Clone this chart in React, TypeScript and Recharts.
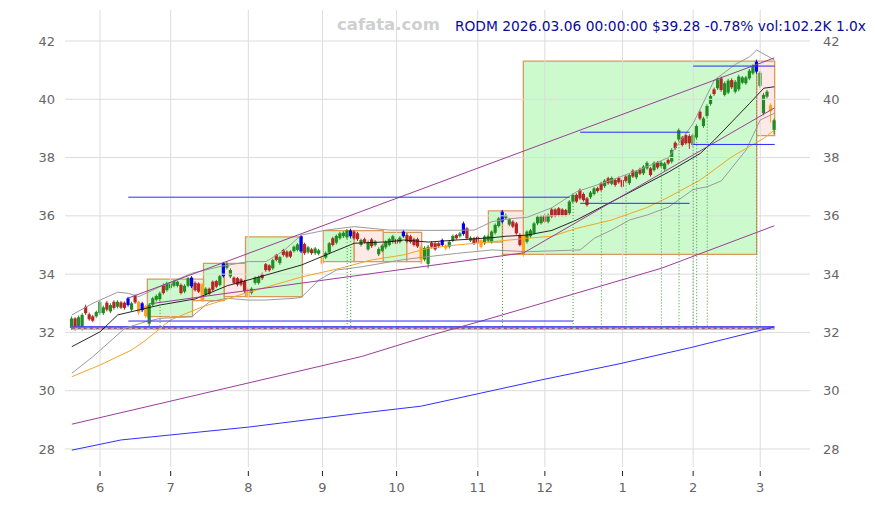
import React from 'react';
import { ComposedChart, Bar, Line, XAxis, YAxis, ReferenceArea, ReferenceLine } from 'recharts';

// ---- candles (daily, index 0 = 2025-05-20 ... 199 = 2026-03-06)
const OPEN = [
  32.15, 32.48, 32.22, 32.12, 32.88, 32.62, 32.55, 32.55, 32.66, 32.66,
  33.02, 32.72, 33.05, 32.88, 33.03, 33.02, 32.94, 32.78, 33.25, 33.05,
  32.76, 32.90, 32.30, 32.95, 33.12, 33.14, 33.62, 33.45, 33.52, 33.60,
  33.60, 33.63, 33.40, 33.60, 33.58, 33.70, 33.68, 33.65, 33.30, 33.50,
  33.74, 33.76, 33.63, 33.93, 34.22, 33.92, 33.88, 33.86, 33.82, 33.76,
  33.50, 33.36, 33.70, 33.70, 34.00, 34.34, 34.30, 34.20, 34.66, 34.38,
  34.83, 34.77, 34.78, 34.79, 34.83, 34.78, 35.03, 34.75, 34.85, 34.72,
  34.70, 34.60, 34.57, 34.74, 35.23, 35.08, 35.23, 35.30, 35.26, 35.30,
  35.46, 35.40, 35.00, 35.20, 34.85, 35.19, 35.00, 34.68, 34.80, 34.92,
  35.00, 35.10, 35.20, 35.10, 35.30, 35.34, 35.30, 35.20, 35.20, 34.94,
  34.50, 34.35, 35.08, 35.06, 35.06, 35.00, 34.98, 34.94, 35.15, 35.34,
  35.30, 35.38, 35.57, 35.15, 35.23, 35.28, 35.17, 35.06, 35.15, 35.11,
  35.42, 35.65, 35.80, 35.92, 35.70, 35.80, 35.74, 35.34, 35.34, 35.11,
  35.30, 35.40, 35.74, 35.75, 36.03, 35.80, 36.22, 36.22, 36.26, 36.22,
  36.20, 36.09, 36.49, 36.72, 36.89, 36.75, 36.60, 36.64, 36.75, 36.95,
  37.12, 37.02, 37.29, 37.10, 37.23, 37.30, 37.23, 37.35, 37.12, 37.55,
  37.32, 37.60, 37.46, 37.63, 37.63, 37.57, 37.83, 37.71, 37.60, 37.92,
  37.86, 38.51, 38.62, 38.69, 38.77, 38.74, 38.43, 38.69, 39.57, 39.08,
  39.43, 39.84, 40.34, 40.38, 40.72, 40.15, 40.23, 40.66, 40.26, 40.34,
  40.57, 40.55, 40.72, 40.89, 40.95, 40.46, 39.52, 40.09, 39.80, 38.95,
];
const CLOSE = [
  32.48, 32.12, 32.52, 32.60, 32.66, 32.45, 32.40, 32.70, 33.05, 32.86,
  32.78, 32.94, 32.84, 33.05, 32.85, 32.84, 33.17, 33.00, 33.03, 32.68,
  33.00, 32.56, 32.95, 33.17, 33.25, 33.34, 33.35, 33.68, 33.68, 33.76,
  33.74, 33.35, 33.60, 33.86, 33.88, 33.45, 33.40, 33.10, 33.50, 33.33,
  33.46, 33.57, 33.93, 34.37, 34.35, 34.14, 33.70, 33.64, 33.64, 33.42,
  33.22, 33.50, 33.88, 33.90, 33.86, 34.14, 34.13, 34.48, 34.49, 34.58,
  34.66, 34.60, 34.60, 34.94, 35.02, 35.30, 34.72, 34.92, 34.72, 34.88,
  34.82, 34.36, 34.73, 35.06, 35.00, 35.31, 35.40, 35.42, 35.50, 35.50,
  35.23, 35.20, 35.17, 35.10, 35.10, 34.96, 35.12, 34.86, 34.98, 35.11,
  35.20, 35.30, 35.05, 35.25, 35.46, 35.12, 35.10, 35.00, 34.95, 34.50,
  34.90, 34.94, 34.94, 34.85, 34.96, 35.17, 34.88, 35.11, 35.31, 35.23,
  35.40, 35.74, 35.23, 35.25, 35.06, 35.08, 34.94, 35.29, 35.30, 35.46,
  35.69, 35.91, 36.14, 36.02, 35.88, 35.63, 35.40, 35.00, 34.68, 35.46,
  35.50, 35.74, 35.97, 35.98, 35.80, 36.03, 35.97, 36.00, 36.03, 36.03,
  36.03, 36.49, 36.72, 36.49, 36.60, 36.54, 36.37, 36.80, 36.94, 36.85,
  36.89, 37.21, 37.12, 37.30, 37.06, 37.15, 37.00, 37.20, 37.40, 37.35,
  37.52, 37.45, 37.69, 37.82, 37.40, 37.82, 37.66, 37.83, 37.80, 37.80,
  38.26, 38.32, 38.94, 38.43, 38.49, 38.49, 38.77, 39.08, 39.34, 39.34,
  39.77, 40.11, 40.18, 40.68, 40.32, 40.55, 40.64, 40.41, 40.60, 40.78,
  40.75, 40.75, 40.98, 41.14, 41.29, 40.91, 40.15, 40.26, 39.59, 39.28,
];
const HIGH = [
  32.55, 32.52, 32.58, 32.66, 32.95, 32.68, 32.60, 32.75, 33.10, 32.92,
  33.08, 33.00, 33.10, 33.10, 33.08, 33.06, 33.22, 33.05, 33.30, 33.10,
  33.05, 32.95, 33.00, 33.22, 33.30, 33.40, 33.68, 33.74, 33.72, 33.80,
  33.78, 33.68, 33.65, 33.90, 33.93, 33.75, 33.72, 33.70, 33.55, 33.54,
  33.78, 33.80, 33.98, 34.42, 34.42, 34.20, 33.92, 33.90, 33.86, 33.80,
  33.55, 33.55, 33.92, 33.95, 34.05, 34.38, 34.34, 34.53, 34.70, 34.63,
  34.87, 34.82, 34.82, 34.98, 35.06, 35.35, 35.08, 34.97, 34.90, 34.93,
  34.87, 34.66, 34.78, 35.10, 35.28, 35.36, 35.45, 35.47, 35.55, 35.56,
  35.50, 35.45, 35.22, 35.25, 35.15, 35.24, 35.17, 34.92, 35.03, 35.16,
  35.25, 35.35, 35.25, 35.30, 35.52, 35.40, 35.35, 35.25, 35.25, 35.00,
  34.96, 35.00, 35.13, 35.10, 35.10, 35.22, 35.03, 35.16, 35.36, 35.38,
  35.45, 35.80, 35.62, 35.30, 35.28, 35.33, 35.22, 35.34, 35.35, 35.50,
  35.74, 35.96, 36.20, 36.08, 35.93, 35.85, 35.79, 35.40, 35.40, 35.50,
  35.55, 35.79, 36.02, 36.03, 36.08, 36.08, 36.27, 36.26, 36.30, 36.26,
  36.24, 36.54, 36.77, 36.77, 36.94, 36.80, 36.65, 36.85, 36.99, 37.00,
  37.17, 37.26, 37.34, 37.35, 37.28, 37.35, 37.28, 37.40, 37.46, 37.60,
  37.57, 37.65, 37.74, 37.87, 37.68, 37.87, 37.88, 37.88, 37.85, 37.97,
  38.32, 38.56, 39.00, 38.74, 38.82, 38.80, 38.83, 39.14, 39.63, 39.40,
  39.83, 40.17, 40.40, 40.74, 40.78, 40.61, 40.70, 40.72, 40.66, 40.84,
  40.80, 40.80, 41.04, 41.20, 41.36, 40.97, 40.22, 40.32, 39.86, 39.34,
];
const LOW = [
  32.08, 32.06, 32.16, 32.06, 32.60, 32.40, 32.35, 32.50, 32.60, 32.60,
  32.72, 32.66, 32.78, 32.82, 32.80, 32.78, 32.88, 32.72, 32.98, 32.60,
  32.70, 32.50, 32.20, 32.90, 33.06, 33.08, 33.30, 33.40, 33.46, 33.55,
  33.55, 33.30, 33.35, 33.55, 33.52, 33.40, 33.35, 33.05, 33.24, 33.28,
  33.40, 33.52, 33.58, 33.88, 34.16, 33.86, 33.65, 33.58, 33.58, 33.36,
  33.18, 33.30, 33.64, 33.64, 33.80, 34.08, 34.08, 34.14, 34.44, 34.32,
  34.60, 34.55, 34.55, 34.74, 34.78, 34.72, 34.66, 34.70, 34.66, 34.66,
  34.64, 34.30, 34.52, 34.68, 34.95, 35.02, 35.18, 35.24, 35.20, 35.24,
  35.18, 35.14, 34.95, 35.05, 34.80, 34.90, 34.95, 34.62, 34.75, 34.86,
  34.95, 35.05, 35.00, 35.05, 35.25, 35.06, 35.05, 34.95, 34.90, 34.35,
  34.44, 34.20, 34.88, 34.80, 34.90, 34.95, 34.82, 34.88, 35.10, 35.18,
  35.25, 35.32, 35.18, 35.10, 35.00, 34.80, 34.88, 35.00, 35.10, 35.05,
  35.36, 35.60, 35.75, 35.86, 35.64, 35.58, 35.35, 34.95, 34.60, 35.05,
  35.25, 35.35, 35.68, 35.70, 35.75, 35.74, 35.92, 35.95, 35.98, 35.98,
  35.98, 36.03, 36.44, 36.44, 36.55, 36.49, 36.32, 36.58, 36.70, 36.80,
  36.84, 36.96, 37.07, 37.05, 37.00, 37.10, 36.95, 37.15, 37.06, 37.30,
  37.26, 37.40, 37.40, 37.58, 37.35, 37.52, 37.60, 37.66, 37.55, 37.75,
  37.80, 38.27, 38.56, 38.38, 38.44, 38.30, 38.37, 38.63, 39.28, 39.02,
  39.37, 39.78, 40.12, 40.32, 40.26, 40.10, 40.18, 40.35, 40.20, 40.28,
  40.52, 40.50, 40.66, 40.84, 40.88, 40.40, 39.45, 40.03, 39.20, 38.80,
];
const BLUE_CANDLES = [16, 20, 34, 43, 65, 79, 94, 105, 111, 122, 194];
const ORANGE_CANDLES = [19, 21, 37, 50, 71, 99, 106, 116, 128, 198];

// ---- overlay lines, as [candle index, price]
const MA_SHORT = [[0,31.51],[8,32.02],[13,32.6],[19,32.77],[25,32.94],[35,33.15],[44,33.6],[53,33.9],[65,34.31],[72,34.66],[80,35.06],[90,35.11],[94,35.17],[101,35.1],[109,35.17],[115,35.22],[119,35.25],[123,35.3],[129,35.34],[136,35.5],[143,35.86],[153,36.49],[163,37.12],[169,37.5],[178,38.14],[182,38.6],[187,39.23],[192,39.86],[196,40.38],[199,40.43]];
const MA_LONG = [[0,30.48],[8,30.88],[17,31.4],[21,31.74],[28,32.43],[37,32.88],[49,33.34],[65,33.9],[76,34.2],[85,34.49],[94,34.66],[101,34.89],[109,35.0],[119,35.11],[129,35.23],[136,35.3],[143,35.57],[153,35.86],[163,36.29],[169,36.64],[178,37.23],[187,38.03],[196,38.66],[199,38.94]];
const BAND_UP = [[0,32.6],[6,33.0],[13,33.38],[16,33.34],[19,33.23],[25,33.57],[34,34.03],[42,34.26],[50,34.43],[55,34.43],[60,34.8],[65,35.34],[72,35.51],[80,35.63],[90,35.51],[95,35.51],[101,35.5],[114,35.51],[119,35.8],[124,35.9],[129,35.95],[136,36.28],[143,36.83],[153,37.23],[163,37.69],[169,38.0],[176,39.17],[182,40.66],[188,41.2],[192,41.46],[194,41.69],[199,41.35]];
const BAND_LOW = [[0,30.6],[6,31.17],[15,32.14],[21,32.37],[25,32.48],[34,32.54],[39,33.05],[44,33.17],[50,33.11],[55,33.11],[63,33.17],[65,33.2],[70,33.8],[75,34.14],[82,34.25],[94,34.5],[101,34.6],[109,34.71],[119,34.83],[129,34.77],[144,34.83],[148,35.23],[153,35.52],[158,35.86],[163,36.03],[169,36.3],[176,36.9],[180,37.0],[184,37.2],[191,38.26],[195,39.29],[199,39.52]];
const CHAN_TOP = [[16,33.18],[199,41.42]];
const CHAN_LOW1 = [[22,32.98],[128,34.73]];
const CHAN_LOW2 = [[128,34.73],[199,39.7]];
const TREND_PURPLE = [[0,28.85],[82,31.17],[101,31.88],[116,32.39],[167,34.2],[199,35.66]];
const TREND_BLUE = [[0,27.96],[14,28.31],[50,28.75],[82,29.23],[99,29.47],[116,29.92],[133,30.37],[155,30.92],[175,31.47],[199,32.19]];
const VOL_STRIP = [[0,32.14],[199,32.14]];
const VOL_LINE = [[0,32.19],[199,32.19]];

// ---- boxes [x1, x2, low, high]
const GREEN_BOXES = [[21.4,34.2,32.54,33.83],[37.3,43.2,33.09,34.37],[49.2,65.3,33.23,35.28],[71.2,80.0,34.43,35.49],[88.2,94.9,34.43,35.43],[118,122,35.1,36.17],[127.9,194,34.68,41.31]];
const PINK_BOXES = [[34.2,37.3,33.09,33.83],[43.2,49.2,33.23,34.37],[80.0,88.2,34.43,35.49],[94.9,99.1,34.43,35.43],[122,127.9,34.68,36.17],[194,199.1,38.75,41.31]];

// ---- horizontal levels [price, from index, to index]
const LEVELS = [[32.39,16,142],[36.64,16,141],[36.43,144,175],[38.87,144,175],[41.14,176,199.1],[38.45,176,199.1]];
const SIGNAL_IDX = [22, 25, 78, 79, 122, 142, 150, 157, 167, 172, 176, 177, 180, 194];

const MONTH_IDX = [8, 28, 50, 71, 92, 115, 134, 156, 176, 195];
const MONTH_LABELS = ['6', '7', '8', '9', '10', '11', '12', '1', '2', '3'];
const Y_TICKS = [28, 30, 32, 34, 36, 38, 40, 42];

const TITLE = 'RODM 2026.03.06 00:00:00 $39.28 -0.78% vol:102.2K 1.0x';
const WATERMARK = 'cafata.com';

const rows: any[] = OPEN.map((o, i) => ({
  i, o, c: CLOSE[i], h: HIGH[i], l: LOW[i], range: [LOW[i], HIGH[i]],
  flag: BLUE_CANDLES.includes(i) ? 'b' : ORANGE_CANDLES.includes(i) ? 'o' : '',
}));
const put = (key: string, pts: number[][]) => pts.forEach(([i, v]) => { rows[i][key] = v; });
put('maS', MA_SHORT); put('maL', MA_LONG); put('bbU', BAND_UP); put('bbL', BAND_LOW);
put('chT', CHAN_TOP); put('chL1', CHAN_LOW1); put('chL2', CHAN_LOW2);
put('tP', TREND_PURPLE); put('tB', TREND_BLUE); put('vS', VOL_STRIP); put('vL', VOL_LINE);

const Candle = (props: any) => {
  const { x, y, width, height, payload } = props;
  if (!payload || payload.h == null) return null;
  const { o, c, h, l, flag } = payload;
  const top0 = Math.min(y, y + height);
  const hgt = Math.abs(height);
  const cx = x + width / 2;
  const span = h - l;
  const py = (v: number) => top0 + (span ? ((h - v) / span) * hgt : 0);
  let col = c >= o ? '#228b22' : '#b52525';
  if (flag === 'b') col = '#0000ee';
  if (flag === 'o') col = '#ffa31a';
  const bt = py(Math.max(o, c));
  const bb = py(Math.min(o, c));
  return (
    <g>
      <line x1={cx} x2={cx} y1={top0} y2={top0 + hgt} stroke={col} strokeWidth={1} />
      <rect x={cx - 1.6} y={bt} width={3.2} height={Math.max(1, bb - bt)} fill={col} />
    </g>
  );
};

const XTick = (props: any) => {
  const { x, y, payload } = props;
  const k = MONTH_IDX.indexOf(payload.value);
  return (
    <g>
      <line x1={x} x2={x} y1={y - 4} y2={y + 1} stroke="#222" strokeWidth={1} />
      <text x={x} y={y + 17} textAnchor="middle" fill="#666" fontSize={13} fontFamily="DejaVu Sans">{k >= 0 ? MONTH_LABELS[k] : ''}</text>
    </g>
  );
};

const yTick = { fill: '#666', fontSize: 13, fontFamily: 'DejaVu Sans' };
const DOMAIN: [number, number] = [27.381, 43.064];
const GRID = '#dcdcdc';

export default function App() {
  return (
    <div style={{ position: 'absolute', left: 0, top: 0, width: 875, height: 505, background: '#fff' }}>
      <ComposedChart width={875} height={505} data={rows} margin={{ top: 10, right: 0, bottom: 0, left: 0 }}>
        <XAxis dataKey="i" type="number" domain={[-1.93, 209.1]} allowDataOverflow ticks={MONTH_IDX} interval={0}
          height={38} axisLine={false} tickLine={false} tick={<XTick />} />
        <YAxis yAxisId="L" orientation="left" width={65} domain={DOMAIN} allowDataOverflow ticks={Y_TICKS}
          axisLine={false} tickLine={false} tickMargin={4} tick={yTick} />
        <YAxis yAxisId="R" orientation="right" width={65} domain={DOMAIN} allowDataOverflow ticks={Y_TICKS}
          axisLine={false} tickLine={false} tickMargin={7} tick={yTick} />
        {GREEN_BOXES.map((b, k) => (
          <ReferenceArea key={'g' + k} yAxisId="L" x1={b[0]} x2={b[1]} y1={b[2]} y2={b[3]} fill="#ccfacc" fillOpacity={1} stroke="#d9995c" strokeWidth={1.3} />
        ))}
        {PINK_BOXES.map((b, k) => (
          <ReferenceArea key={'p' + k} yAxisId="L" x1={b[0]} x2={b[1]} y1={b[2]} y2={b[3]} fill="#fde9e6" fillOpacity={1} stroke="#d9995c" strokeWidth={1.3} />
        ))}
        {MONTH_IDX.map((m) => (
          <ReferenceLine key={'gx' + m} yAxisId="L" x={m} stroke={GRID} strokeWidth={1} />
        ))}
        {Y_TICKS.map((v) => (
          <ReferenceLine key={'gy' + v} yAxisId="L" y={v} stroke={GRID} strokeWidth={1} />
        ))}
        <Line yAxisId="L" dataKey="vS" stroke="#a9d3a9" strokeWidth={3.5} dot={false} connectNulls isAnimationActive={false} />
        <Line yAxisId="L" dataKey="vS" stroke="#d9a3b5" strokeWidth={3.5} strokeDasharray="5 4" dot={false} connectNulls isAnimationActive={false} />
        <Line yAxisId="L" dataKey="vS" stroke="#9a3f9a" strokeWidth={1} strokeDasharray="3 3" dot={false} connectNulls isAnimationActive={false} />
        <Line yAxisId="L" dataKey="vL" stroke="#2a2aff" strokeWidth={1.2} dot={false} connectNulls isAnimationActive={false} />
        <Line yAxisId="L" dataKey="tB" stroke="#3030ff" strokeWidth={1} dot={false} connectNulls isAnimationActive={false} />
        <Line yAxisId="L" dataKey="tP" stroke="#9b3d9b" strokeWidth={1} dot={false} connectNulls isAnimationActive={false} />
        <Line yAxisId="L" dataKey="bbU" stroke="#9a9a9a" strokeWidth={1} dot={false} connectNulls isAnimationActive={false} />
        <Line yAxisId="L" dataKey="bbL" stroke="#9a9a9a" strokeWidth={1} dot={false} connectNulls isAnimationActive={false} />
        <Line yAxisId="L" dataKey="maL" stroke="#f5a623" strokeWidth={1} dot={false} connectNulls isAnimationActive={false} />
        <Line yAxisId="L" dataKey="maS" stroke="#111111" strokeWidth={0.9} dot={false} connectNulls isAnimationActive={false} />
        <Line yAxisId="L" dataKey="chT" stroke="#9b3d9b" strokeWidth={1} dot={false} connectNulls isAnimationActive={false} />
        <Line yAxisId="L" dataKey="chL1" stroke="#9b3d9b" strokeWidth={1} dot={false} connectNulls isAnimationActive={false} />
        <Line yAxisId="L" dataKey="chL2" stroke="#9b3d9b" strokeWidth={1} dot={false} connectNulls isAnimationActive={false} />
        {LEVELS.map((lv, k) => (
          <ReferenceLine key={'lv' + k} yAxisId="L" segment={[{ x: lv[1], y: lv[0] }, { x: lv[2], y: lv[0] }]} stroke="#2a2aff" strokeWidth={1} />
        ))}
        {SIGNAL_IDX.map((si) => (
          <ReferenceLine key={'s' + si} yAxisId="L" segment={[{ x: si, y: LOW[si] }, { x: si, y: 32.19 }]} stroke="#3c9a3c" strokeWidth={1} strokeDasharray="1 2" />
        ))}
        <Bar yAxisId="L" dataKey="range" barSize={3} shape={<Candle />} isAnimationActive={false} />
      </ComposedChart>
      <div style={{ position: 'absolute', left: 337, top: 15, fontFamily: 'DejaVu Sans', fontWeight: 'bold', fontSize: 16.5, color: '#cfcfcf', whiteSpace: 'nowrap', lineHeight: '20px' }}>{WATERMARK}</div>
      <div style={{ position: 'absolute', right: 9, top: 17, fontFamily: 'DejaVu Sans', fontSize: 13.8, color: '#0c0c96', whiteSpace: 'nowrap', lineHeight: '18px' }}>{TITLE}</div>
    </div>
  );
}
